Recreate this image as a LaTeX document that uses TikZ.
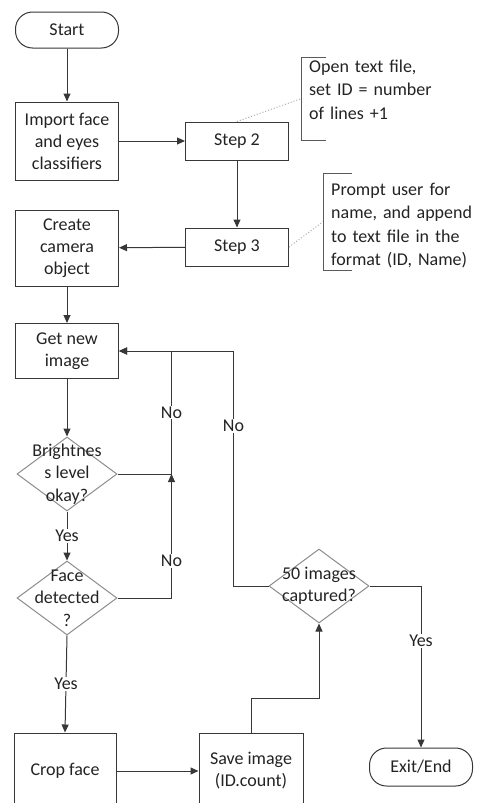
\documentclass[tikz,border=0pt]{standalone}
\usepackage{fontspec}
\setmainfont{Carlito}
\usepackage{tikz}
\usetikzlibrary{arrows.meta, shapes.geometric}
\definecolor{linegray} {RGB}{55, 55, 55}
\definecolor{diagray}  {RGB}{140, 140, 140}
\definecolor{notegray} {RGB}{90, 90, 90}
\definecolor{dotgray}  {RGB}{170, 170, 170}
\definecolor{darktext} {RGB}{35, 35, 35}

\begin{document}
\begin{tikzpicture}[x=1pt, y=1pt, >={Triangle[length=8pt, width=7pt]},
  box/.style={draw=linegray, line width=1pt, minimum width=103pt, inner sep=0pt, align=center, font=\fontsize{18}{22}\selectfont, text=darktext},
  term/.style={box, rounded corners=17pt, minimum height=36pt},
  decision/.style={diamond, draw=diagray, line width=1pt, minimum width=100pt, minimum height=74pt, inner sep=0pt, label={[align=center, font=\fontsize{18}{22.5}\selectfont, text=darktext]center:#1}},
  note/.style={inner xsep=8pt, inner ysep=0pt, text width=150pt, align=left, font=\fontsize{18}{23.5}\selectfont, text=darktext},
  bracket/.style={draw=notegray, line width=1pt},
  flow/.style={->, draw=linegray, line width=1pt},
  lbl/.style={fill=white, inner sep=1pt, font=\fontsize{18}{22}\selectfont, text=darktext}
]
  \useasboundingbox (0,0) rectangle (479,-803);

  % Nodes
  \node[term] (start) at (67,-30) {Start};
  \node[box, minimum height=78pt] (import) at (67,-141) {Import face\\and eyes\\classifiers};
  \node[box, minimum height=38pt] (step2) at (237,-141) {Step 2};
  \node[box, minimum height=38pt] (step3) at (237,-247) {Step 3};
  \node[box, minimum height=76pt] (camera) at (67,-248) {Create\\camera\\object};
  \node[box, minimum height=55pt] (getimg) at (67,-351) {Get new\\image};
  \node[decision={Brightnes\\s level\\okay?}] (bright) at (67,-474) {};
  \node[decision={Face\\detected\\?}] (face) at (67,-598) {};
  \node[box, minimum height=76pt, minimum width=102pt] (crop) at (65,-771) {Crop face};
  \node[box, minimum height=76pt, minimum width=104pt] (save) at (251,-771) {Save image\\(ID.count)};
  \node[decision={50 images\\captured?}] (fifty) at (319,-586) {};
  \node[term, minimum height=38pt] (exit) at (421,-767) {Exit/End};

  % Comments
  \node[note, anchor=north west, text height=15pt, text depth=68pt] (note1) at (301,-57) {Open text file,\\set ID = number\\of lines +1};
  \node[note, anchor=north west, text height=22pt, text depth=75pt] (note2) at (323,-173) {Prompt user for\\name, and append\\to text file in the\\format (ID, Name)};
  \draw[bracket] ([xshift=25pt]note1.north west) -- (note1.north west) -- (note1.south west) -- ++(25,0);
  \draw[bracket] ([xshift=29pt]note2.north west) -- (note2.north west) -- (note2.south west) -- ++(29,0);
  \draw[dotgray, line width=1pt, dotted] (step2.north) -- (note1.west);
  \draw[dotgray, line width=1pt, dotted] (step3.east) -- (note2.west);

  % Flow
  \draw[flow] (start) -- (import);
  \draw[flow] (import) -- (step2);
  \draw[flow] (step2) -- (step3);
  \draw[flow] (step3) -- (camera);
  \draw[flow] (camera) -- (getimg);
  \draw[flow] (getimg) -- (bright);
  \draw[flow] (bright.east) -- ++(54,0) coordinate (brno) |- node[pos=0.25, lbl] {No} (getimg.east);
  \draw[flow] (bright.south) -- node[lbl] {Yes} (face.north);
  \draw[flow] (face.east) -| node[pos=0.65, lbl] {No} (brno);
  \draw[flow] (face.south) -- node[lbl] {Yes} (crop.north);
  \draw[flow] (crop.east |- 0,-771) -- (save.west |- 0,-771);
  \draw[flow] (save.north) -- ++(0,34) -| (fifty.south);
  \draw[flow] (fifty.west) -- ++(-35,0) |- node[pos=0.34, lbl] {No} (getimg.east);
  \draw[flow] (fifty.east) -| node[pos=0.67, lbl] {Yes} (exit.north);
\end{tikzpicture}
\end{document}
